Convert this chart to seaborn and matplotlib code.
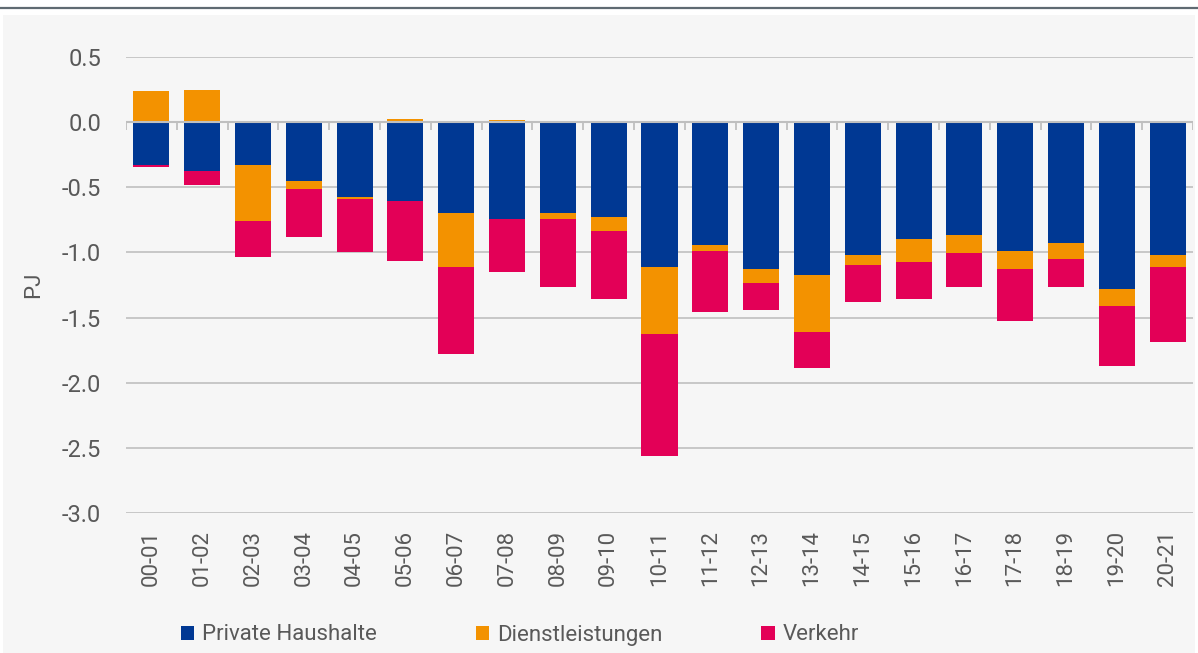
import numpy as np
import pandas as pd
import seaborn as sns
import matplotlib.pyplot as plt
from matplotlib.patches import Rectangle
from matplotlib.lines import Line2D

# Data :-
years = ['00-01', '01-02', '02-03', '03-04', '04-05', '05-06', '06-07', '07-08', '08-09', '09-10',
         '10-11', '11-12', '12-13', '13-14', '14-15', '15-16', '16-17', '17-18', '18-19', '19-20', '20-21']
private_haushalte = [-0.33, -0.374, -0.33, -0.45, -0.573, -0.604, -0.694, -0.742, -0.694, -0.727,
                     -1.108, -0.942, -1.126, -1.172, -1.018, -0.896, -0.865, -0.985, -0.926, -1.277, -1.018]
dienstleistungen = [0.24, 0.25, -0.425, -0.06, -0.015, 0.025, -0.414, 0.02, -0.048, -0.107,
                    -0.519, -0.043, -0.105, -0.44, -0.075, -0.181, -0.138, -0.141, -0.123, -0.138, -0.09]
verkehr = [-0.015, -0.107, -0.276, -0.37, -0.41, -0.46, -0.673, -0.41, -0.52, -0.52,
           -0.934, -0.476, -0.215, -0.276, -0.291, -0.277, -0.259, -0.397, -0.213, -0.461, -0.583]

series = ['Private Haushalte', 'Dienstleistungen', 'Verkehr']
colors = ['#003893', '#f39200', '#e30057']

df = pd.DataFrame({'year': years,
                   'Private Haushalte': private_haushalte,
                   'Dienstleistungen': dienstleistungen,
                   'Verkehr': verkehr})

sns.set_theme(style='white')
plt.rcParams['font.family'] = ['Roboto', 'DejaVu Sans']
text_col = '#595959'
grid_col = '#bfbfbf'
panel_col = '#f6f6f6'

fig = plt.figure(figsize=(11.98, 6.53), dpi=100, facecolor='white')

# grey panel + top rule
fig.patches.append(Rectangle((3 / 1198, 0), 1192 / 1198, 1 - 15 / 653, transform=fig.transFigure,
                             facecolor=panel_col, edgecolor='none', zorder=-10))
fig.lines.append(Line2D([0, 1], [1 - 8 / 653, 1 - 8 / 653], transform=fig.transFigure,
                        color='#5f6a72', lw=1.6))

ax = fig.add_axes([126 / 1198, 1 - 513 / 653, 1067 / 1198, 456 / 653])
ax.set_facecolor(panel_col)

# stacked bars, positives and negatives stacked separately (like Excel)
pos_base = np.zeros(len(years))
neg_base = np.zeros(len(years))
for name, col in zip(series, colors):
    vals = df[name].to_numpy()
    bottom = np.where(vals >= 0, pos_base, neg_base)
    sns.barplot(x=df['year'], y=vals, bottom=bottom, color=col, saturation=1,
                width=0.71, linewidth=0, label=name, ax=ax, zorder=3)
    pos_base = pos_base + np.where(vals >= 0, vals, 0)
    neg_base = neg_base + np.where(vals < 0, vals, 0)

if ax.get_legend() is not None:
    ax.get_legend().remove()

ax.set_ylim(-3.003, 0.503)
ax.set_xlim(-0.5, len(years) - 0.5)
ax.set_yticks(np.arange(-3.0, 0.51, 0.5))
ax.set_yticklabels([f'{v:.1f}' for v in np.arange(-3.0, 0.51, 0.5)])
ax.yaxis.grid(True, color=grid_col, lw=1.2, zorder=0)
ax.set_axisbelow(True)
for s in ax.spines.values():
    s.set_visible(False)

ax.tick_params(axis='y', length=0, pad=18, labelsize=17, labelcolor=text_col)
ax.tick_params(axis='x', length=0, pad=12, labelsize=16, labelcolor=text_col, labelrotation=90)
ax.set_xlabel('')
ax.set_ylabel('PJ', fontsize=16, color=text_col)
ax.yaxis.set_label_coords(-0.077, 0.5)

# zero axis line with small tick marks between the categories
ax.axhline(0, color=grid_col, lw=1.5, zorder=4)
ax.vlines(np.arange(-0.5, len(years), 1.0), -0.06, 0, color=grid_col, lw=1.3, zorder=4)

handles, labels = ax.get_legend_handles_labels()
fig.legend(handles, labels, loc='center left', bbox_to_anchor=(181 / 1198, 1 - 635 / 653),
           ncol=3, frameon=False, fontsize=16, labelcolor=text_col, handlelength=0.6,
           handleheight=0.6, handletextpad=0.35, columnspacing=4.45, borderpad=0, borderaxespad=0)

fig.savefig('out.png', dpi=100, facecolor='white')
